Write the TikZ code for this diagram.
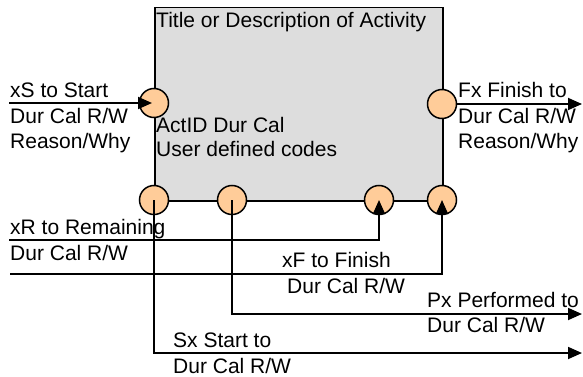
\documentclass[tikz,border=0pt]{standalone}
\usepackage{fontspec}
\setmainfont{Liberation Sans}
\usetikzlibrary{arrows.meta}
\definecolor{peach}{RGB}{255,204,153}
\definecolor{boxgray}{RGB}{221,221,221}
\begin{document}
\begin{tikzpicture}[x=1pt,y=-1pt,
  lbl/.style={anchor=base west, inner sep=0pt, font=\fontsize{21}{25}\selectfont},
  port/.style={circle, draw, line width=1.5pt, fill=peach, minimum size=29pt, inner sep=0pt},
  wire/.style={line width=1.8pt},
  arr/.style={wire, -{Triangle[length=14pt,width=12pt]}}]
\useasboundingbox (0,0) rectangle (583,377);
% activity box
\node[draw, line width=1.5pt, fill=boxgray, minimum width=288pt, minimum height=193pt,
      anchor=north west, inner sep=0pt] (act) at (154,7) {};
% ports
\node[port] (ls) at (154,103) {};
\node[port] (rs) at (442,104) {};
\node[port] (b1) at (154,200) {};
\node[port] (b2) at (232,200) {};
\node[port] (b3) at (379,200) {};
\node[port] (b4) at (442,200) {};
% free ends
\coordinate (xs0) at (9,103);
\coordinate (fx1) at (582,104);
\coordinate (xr0) at (9,240);
\coordinate (xf0) at (10,274);
\coordinate (px1) at (582,314);
\coordinate (sx1) at (582,353);
% connectors
\draw[arr, shorten >=2pt] (xs0) -- (ls.center);
\draw[arr] (rs) -- (fx1);
\draw[arr] (xr0) -| (b3.center);
\draw[arr] (xf0) -| (b4.center);
\draw[arr] (b2.center) |- (px1);
\draw[arr] (b1.center) |- (sx1);
% texts
\node[lbl] (t0) at (156,28) {Title or Description of Activity};
\node[lbl] (t1) at (156,132) {ActID Dur Cal};
\node[lbl] (t2) at (156,156) {User defined codes};
\node[lbl] (s1) at (10,98) {xS to Start};
\node[lbl] (s2) at (10,124) {Dur Cal R/W};
\node[lbl] (s3) at (10,148) {Reason/Why};
\node[lbl] (f1) at (458,98) {Fx Finish to};
\node[lbl] (f2) at (458,124) {Dur Cal R/W};
\node[lbl] (f3) at (458,148) {Reason/Why};
\node[lbl] (r1) at (10,234) {xR to Remaining};
\node[lbl] (r2) at (10,260) {Dur Cal R/W};
\node[lbl] (g1) at (282,267) {xF to Finish};
\node[lbl] (g2) at (287,293) {Dur Cal R/W};
\node[lbl] (p1) at (427,307) {Px Performed to};
\node[lbl] (p2) at (427,332) {Dur Cal R/W};
\node[lbl] (q1) at (173,347) {Sx Start to};
\node[lbl] (q2) at (173,373) {Dur Cal R/W};
\end{tikzpicture}
\end{document}
